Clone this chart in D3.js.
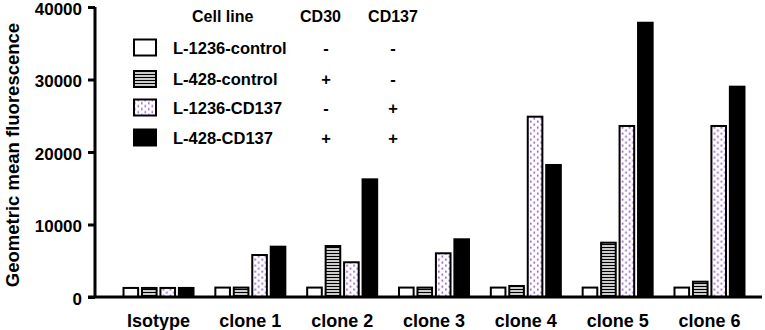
<!DOCTYPE html>
<html>
<head>
<meta charset="utf-8">
<script src="https://cdn.jsdelivr.net/npm/d3@7"></script>
<style>
  html, body { margin: 0; padding: 0; background: #fff; }
  svg { display: block; font-family: "Liberation Sans", Arial, sans-serif; font-weight: bold; }
</style>
</head>
<body>
<svg id="chart" width="765" height="330"></svg>
<script>
const categories = ["Isotype", "clone 1", "clone 2", "clone 3", "clone 4", "clone 5", "clone 6"];
const seriesNames = ["L-1236-control", "L-428-control", "L-1236-CD137", "L-428-CD137"];
const cd30 = ["-", "+", "-", "+"];
const cd137 = ["-", "-", "+", "+"];
const l1236control = [1250, 1300, 1300, 1300, 1300, 1300, 1300];
const l428control  = [1250, 1300, 7030, 1300, 1520, 7490, 2110];
const l1236cd137   = [1250, 5790, 4790, 6030, 24870, 23590, 23590];
const l428cd137    = [1250, 6940, 16230, 7960, 18210, 37830, 29010];
const yTicks = [0, 10000, 20000, 30000, 40000];

const seriesValues = [l1236control, l428control, l1236cd137, l428cd137];

const svg = d3.select("#chart");
const defs = svg.append("defs");

// horizontal stripes
const ps = defs.append("pattern").attr("id", "stripes")
  .attr("patternUnits", "userSpaceOnUse").attr("width", 6).attr("height", 3);
ps.append("rect").attr("width", 6).attr("height", 3).attr("fill", "#fff");
ps.append("rect").attr("width", 6).attr("height", 1.4).attr("y", 0.8).attr("fill", "#000");

// purple dots
const pd = defs.append("pattern").attr("id", "dots")
  .attr("patternUnits", "userSpaceOnUse").attr("width", 7).attr("height", 6);
pd.append("rect").attr("width", 7).attr("height", 6).attr("fill", "#fff");
pd.append("rect").attr("x", 1).attr("y", 0.5).attr("width", 1.6).attr("height", 2.2).attr("fill", "#9b6bd1");
pd.append("rect").attr("x", 4.5).attr("y", 3.5).attr("width", 1.6).attr("height", 2.2).attr("fill", "#9b6bd1");

const fills = ["#fff", "url(#stripes)", "url(#dots)", "#000"];

const y = d3.scaleLinear().domain([0, 40000]).range([297, 7]);
const x = d3.scaleBand().domain(categories).range([112.6, 755.4]).padding(0);
const groupW = 72;
const xi = d3.scaleBand().domain(d3.range(seriesNames.length))
  .range([(x.bandwidth() - groupW) / 2, (x.bandwidth() + groupW) / 2])
  .paddingInner(0.1).paddingOuter(0);

// bars
const groups = svg.append("g").selectAll("g").data(categories).join("g")
  .attr("transform", c => `translate(${x(c)},0)`);
groups.selectAll("rect")
  .data((c, ci) => seriesValues.map((vals, si) => ({ si, v: vals[ci] })))
  .join("rect")
  .attr("x", d => xi(d.si) + 1)
  .attr("width", xi.bandwidth() - 2)
  .attr("y", d => y(d.v))
  .attr("height", d => y(0) - y(d.v))
  .attr("fill", d => fills[d.si])
  .attr("stroke", "#000")
  .attr("stroke-width", 2);

// y axis
const yAxis = svg.append("g").attr("transform", "translate(95,0)")
  .call(d3.axisLeft(y).tickValues(yTicks).tickFormat(d3.format("d")).tickSize(7).tickPadding(6));
yAxis.select(".domain").attr("stroke-width", 3).attr("d", `M0,${y(40000)}V${y(0)}`);
yAxis.selectAll(".tick line").attr("stroke-width", 3);
yAxis.selectAll(".tick text").attr("font-size", 17).attr("font-weight", "bold")
  .attr("font-family", "Liberation Sans, Arial, sans-serif").attr("fill", "#000")
  .attr("dy", "0.42em");

// x axis
const xAxis = svg.append("g").attr("transform", `translate(0,${y(0)})`)
  .call(d3.axisBottom(x).tickSize(0).tickPadding(14));
xAxis.select(".domain").attr("stroke-width", 3).attr("d", `M88,0H762`);
xAxis.selectAll(".tick text").attr("font-size", 18).attr("font-weight", "bold")
  .attr("font-family", "Liberation Sans, Arial, sans-serif").attr("fill", "#000")
  .attr("dy", "0.9em");

// y title
svg.append("text")
  .attr("transform", "translate(19,155) rotate(-90)")
  .attr("text-anchor", "middle")
  .attr("font-size", 18.5)
  .text("Geometric mean fluorescence");

// legend
const leg = svg.append("g");
leg.append("text").attr("x", 192).attr("y", 22).attr("font-size", 16).text("Cell line");
leg.append("text").attr("x", 320.5).attr("y", 22).attr("text-anchor", "middle").attr("font-size", 16).text("CD30");
leg.append("text").attr("x", 393).attr("y", 22).attr("text-anchor", "middle").attr("font-size", 16).text("CD137");
const rowY = [47.5, 79, 107.5, 137.5];
const rows = leg.selectAll("g.row").data(seriesNames).join("g").attr("class", "row")
  .attr("transform", (d, i) => `translate(0,${rowY[i]})`);
rows.append("rect").attr("x", 134).attr("y", -8).attr("width", 22).attr("height", 16)
  .attr("fill", (d, i) => fills[i]).attr("stroke", "#000").attr("stroke-width", 2);
rows.append("text").attr("x", 173).attr("y", 6).attr("font-size", 16.5).text(d => d);
rows.append("text").attr("x", 326).attr("y", 6).attr("text-anchor", "middle").attr("font-size", 16.5)
  .text((d, i) => cd30[i]);
rows.append("text").attr("x", 393).attr("y", 6).attr("text-anchor", "middle").attr("font-size", 16.5)
  .text((d, i) => cd137[i]);
</script>
</body>
</html>
